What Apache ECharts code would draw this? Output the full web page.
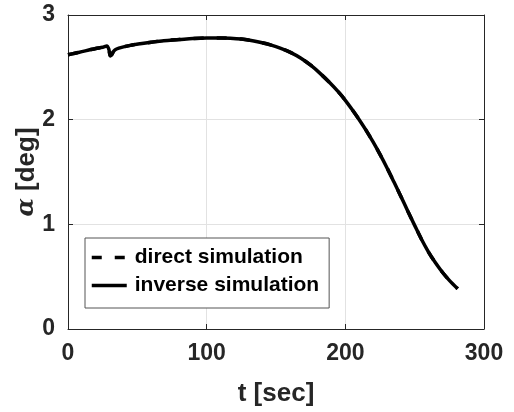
<!DOCTYPE html>
<html>
<head>
<meta charset="utf-8">
<script src="https://cdn.jsdelivr.net/npm/echarts@6/dist/echarts.min.js"></script>
<style>
  html, body { margin: 0; padding: 0; background: #fff; }
  #chart { width: 514px; height: 412px; }
</style>
</head>
<body>
<div id="chart"></div>
<script>
// Time samples [sec]
var timeSec = [0, 5, 10, 15, 20, 25, 28, 29.5, 30.5, 31.5, 33, 35, 40, 45, 52, 60, 69, 80, 90, 100,
  110, 117, 125, 134, 140, 146, 153, 160, 168, 175, 182, 189, 195, 200, 205, 210, 215, 220, 225, 230, 235,
  240, 245, 250, 255, 260, 265, 270, 275, 281];

// Angle of attack, direct simulation [deg]
var directAlpha = [2.62, 2.635, 2.65, 2.665, 2.68, 2.692, 2.705, 2.67, 2.61, 2.62, 2.655, 2.675, 2.695, 2.71, 2.725, 2.74, 2.755, 2.765, 2.775, 2.78,
  2.78, 2.778, 2.77, 2.752, 2.735, 2.714, 2.684, 2.645, 2.587, 2.52, 2.44, 2.35, 2.265, 2.185, 2.095, 2.0, 1.898, 1.787, 1.668, 1.541, 1.406,
  1.268, 1.128, 0.99, 0.855, 0.735, 0.632, 0.542, 0.465, 0.385];

// Angle of attack, inverse simulation [deg]
var inverseAlpha = [2.62, 2.635, 2.65, 2.665, 2.68, 2.692, 2.705, 2.67, 2.61, 2.62, 2.655, 2.675, 2.695, 2.71, 2.725, 2.74, 2.755, 2.765, 2.775, 2.78,
  2.78, 2.778, 2.77, 2.752, 2.735, 2.714, 2.684, 2.645, 2.587, 2.52, 2.44, 2.35, 2.265, 2.185, 2.095, 2.0, 1.898, 1.787, 1.668, 1.541, 1.406,
  1.268, 1.128, 0.99, 0.855, 0.735, 0.632, 0.542, 0.465, 0.385];

var xTicks = [0, 100, 200, 300];
var yTicks = [0, 1, 2, 3];

function pairs(xs, ys) {
  return xs.map(function (x, i) { return [x, ys[i]]; });
}

var FONT = "'Liberation Sans', Arial, sans-serif";
var AXIS_COLOR = '#262626';

var chart = echarts.init(document.getElementById('chart'), null, { renderer: 'canvas' });

var baseX = {
  type: 'value', min: xTicks[0], max: xTicks[xTicks.length - 1], interval: 100,
  axisLine: { show: true, onZero: false, lineStyle: { color: AXIS_COLOR, width: 1 } },
  axisTick: { show: true, inside: true, length: 5, lineStyle: { color: AXIS_COLOR } }
};
var baseY = {
  type: 'value', min: yTicks[0], max: yTicks[yTicks.length - 1], interval: 1,
  axisLine: { show: true, onZero: false, lineStyle: { color: AXIS_COLOR, width: 1 } },
  axisTick: { show: true, inside: true, length: 5, lineStyle: { color: AXIS_COLOR } }
};

chart.setOption({
  animation: false,
  backgroundColor: '#ffffff',
  grid: { left: 68, right: 30, top: 15, bottom: 79, containLabel: false },
  xAxis: [
    Object.assign({}, baseX, {
      position: 'bottom',
      name: 't [sec]', nameLocation: 'middle', nameGap: 52, nameMoveOverlap: false,
      nameTextStyle: { fontFamily: FONT, fontWeight: 'bold', fontSize: 26, color: '#262626', lineHeight: 26 },
      axisLabel: { fontFamily: FONT, fontWeight: 'bold', fontSize: 23, color: '#262626', margin: 13, lineHeight: 23 },
      splitLine: { show: true, lineStyle: { color: '#e2e2e2', width: 1 } }
    }),
    Object.assign({}, baseX, {
      position: 'top',
      axisLabel: { show: false },
      splitLine: { show: false }
    })
  ],
  yAxis: [
    Object.assign({}, baseY, {
      position: 'left',
      name: '{a|α} [deg]', nameLocation: 'middle', nameGap: 28, nameRotate: 90, nameMoveOverlap: false,
      nameTextStyle: {
        fontFamily: FONT, fontWeight: 'bold', fontSize: 26, color: '#262626', lineHeight: 26,
        rich: {
          a: { fontFamily: "'DejaVu Serif', serif", fontStyle: 'italic', fontWeight: 'bold', fontSize: 24, color: '#262626' }
        }
      },
      axisLabel: { fontFamily: FONT, fontWeight: 'bold', fontSize: 23, color: '#262626', margin: 13 },
      splitLine: { show: true, lineStyle: { color: '#e2e2e2', width: 1 } }
    }),
    Object.assign({}, baseY, {
      position: 'right',
      axisLabel: { show: false },
      splitLine: { show: false }
    })
  ],
  legend: {
    left: 85, top: 238,
    orient: 'vertical',
    backgroundColor: '#ffffff',
    borderColor: '#555555', borderWidth: 1,
    padding: [9, 10, 12, 5],
    itemWidth: 35, itemHeight: 14, itemGap: 7,
    itemStyle: { opacity: 0 },
    lineStyle: { width: 3.5, color: '#000' },
    textStyle: { fontFamily: FONT, fontWeight: 'bold', fontSize: 21, color: '#000', lineHeight: 21, padding: [0, 0, 0, 3] },
    data: ['direct simulation', 'inverse simulation']
  },
  series: [
    {
      name: 'direct simulation', type: 'line', xAxisIndex: 0, yAxisIndex: 0,
      data: pairs(timeSec, directAlpha),
      symbol: 'none', smooth: 0.3,
      lineStyle: { color: '#000', width: 3.5, type: [10, 13] },
      itemStyle: { color: '#000' }
    },
    {
      name: 'inverse simulation', type: 'line', xAxisIndex: 0, yAxisIndex: 0,
      data: pairs(timeSec, inverseAlpha),
      symbol: 'none', smooth: 0.3,
      lineStyle: { color: '#000', width: 3.5, type: 'solid' },
      itemStyle: { color: '#000' }
    }
  ]
});
</script>
</body>
</html>
